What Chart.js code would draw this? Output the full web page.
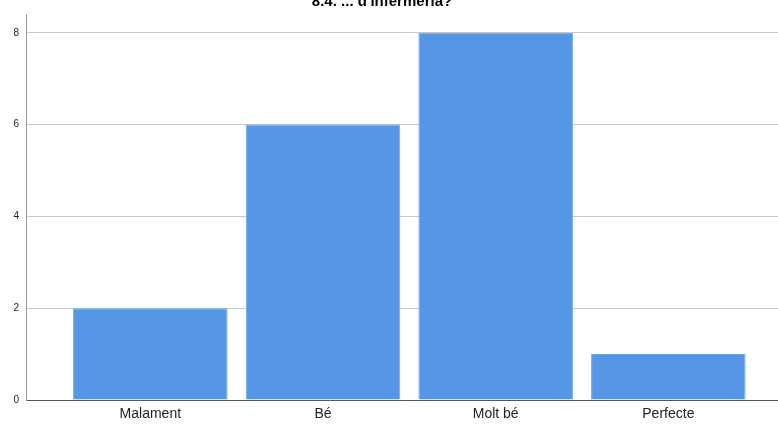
<!DOCTYPE html>
<html>
<head>
<meta charset="utf-8">
<script src="https://cdn.jsdelivr.net/npm/chart.js@4"></script>
<style>
  html, body { margin: 0; padding: 0; background: #fff; }
  #wrap { width: 778px; height: 424px; }
</style>
</head>
<body>
<div id="wrap"><canvas id="barChart"></canvas></div>
<script>
const titleText = "8.4. ... d'infermeria?";
const categories = ['Malament', 'Bé', 'Molt bé', 'Perfecte'];
const counts = [2, 6, 8, 1];
const yTicks = [0, 2, 4, 6, 8];

// title sits partly above the top edge, as in the original export
const clippedTitle = {
    id: 'clippedTitle',
    afterDraw(chart) {
        const c = chart.ctx;
        c.save();
        c.font = 'bold 15px "Liberation Sans", Arial, sans-serif';
        c.fillStyle = '#000';
        c.textAlign = 'center';
        c.textBaseline = 'alphabetic';
        c.fillText(titleText, 382, 6);
        c.restore();
    }
};

new Chart(document.getElementById('barChart'), {
    type: 'bar',
    data: {
        datasets: [{
            data: counts.map((v, i) => ({ x: i, y: v })),
            backgroundColor: '#5596e6',
            borderColor: '#6ea6ec',
            borderWidth: 1,
            barPercentage: 0.895,
            categoryPercentage: 1
        }]
    },
    options: {
        responsive: true,
        maintainAspectRatio: false,
        animation: false,
        layout: { padding: { top: 14, left: 0, right: 0, bottom: 0 } },
        plugins: {
            legend: { display: false },
            tooltip: { enabled: false }
        },
        scales: {
            x: {
                type: 'linear',
                min: -0.72,
                max: 3.635,
                offset: false,
                afterBuildTicks: (s) => { s.ticks = categories.map((_, i) => ({ value: i })); },
                afterFit: (s) => { s.height = 24; },
                ticks: {
                    callback: (v) => categories[v],
                    font: { family: '"Liberation Sans", Arial, sans-serif', size: 14 },
                    color: '#222',
                    padding: 6,
                    maxRotation: 0,
                    autoSkip: false
                },
                grid: { display: false, drawTicks: false },
                border: { display: true, color: '#555', width: 1 }
            },
            y: {
                min: 0,
                max: 8.41,
                afterBuildTicks: (s) => { s.ticks = yTicks.map(v => ({ value: v })); },
                afterFit: (s) => { s.width = 26; },
                ticks: {
                    font: { family: '"Liberation Sans", Arial, sans-serif', size: 10 },
                    color: '#222',
                    padding: 7
                },
                grid: { color: '#c8c8c8', lineWidth: 1, drawTicks: false },
                border: { display: true, color: '#999', width: 1 }
            }
        }
    },
    plugins: [clippedTitle]
});
</script>
</body>
</html>
